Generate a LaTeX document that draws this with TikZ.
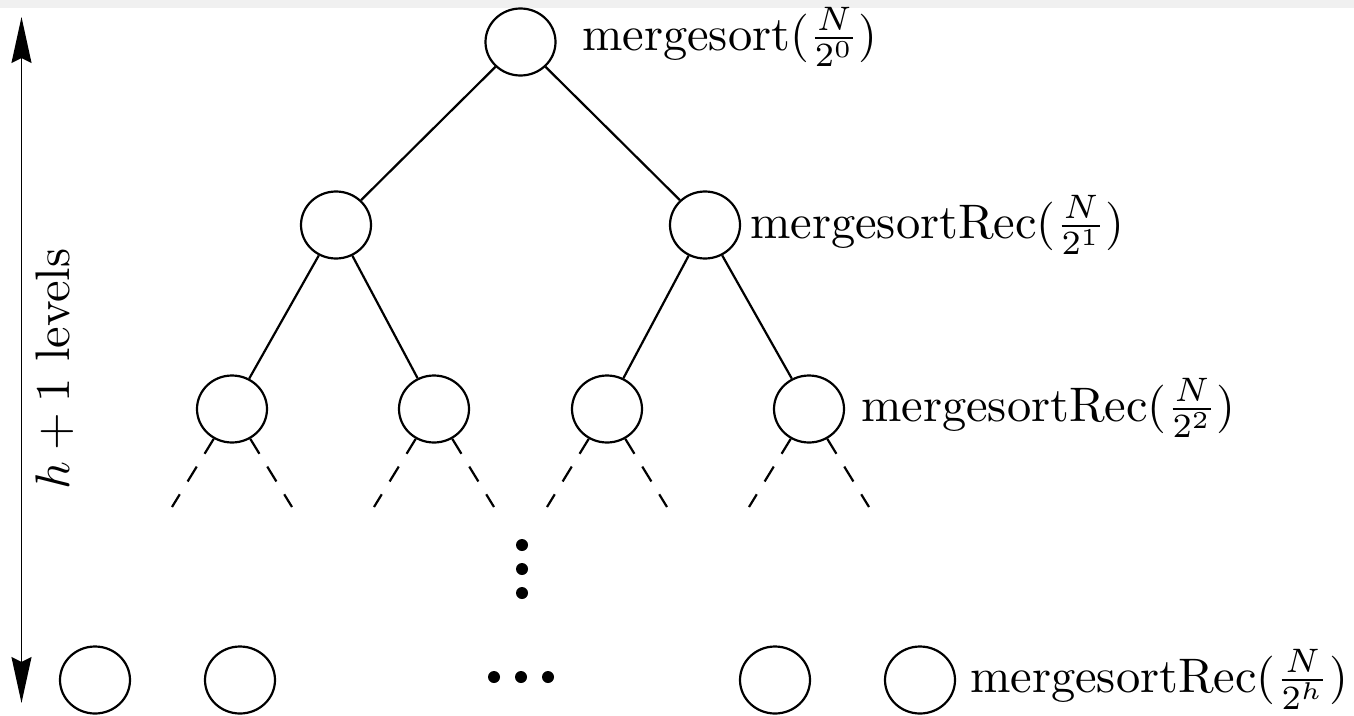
\documentclass[tikz,border=0pt]{standalone}
\usepackage{graphicx}
\usetikzlibrary{shapes.geometric,arrows.meta}
\newcommand{\bigtxt}[1]{\scalebox{4.85}{#1}}
\begin{document}
\begin{tikzpicture}[x=1pt,y=-1pt,
  nd/.style={draw,ellipse,minimum width=70pt,minimum height=67pt,inner sep=0pt,line width=2.2pt},
  edge/.style={line width=2.2pt},
  dsh/.style={line width=2.2pt,dash pattern=on 17.5pt off 15pt},
  lab/.style={anchor=base west,inner sep=0pt},
  dotnode/.style={circle,fill,inner sep=0pt,minimum size=12pt},
  lvarrow/.style={line width=1.6pt,{Stealth[length=46pt,width=20pt,inset=5pt]}-{Stealth[length=46pt,width=20pt,inset=5pt]}}]
\useasboundingbox (0,0) rectangle (1354,715);
\fill[black!6] (0,0) rectangle (1354,8);
% tree nodes
\node[nd] (r) at (520.5,42) {};
\node[nd] (a) at (336,225) {};
\node[nd] (b) at (705,225) {};
\node[nd] (c1) at (232,409) {};
\node[nd] (c2) at (434,409) {};
\node[nd] (c3) at (607,409) {};
\node[nd] (c4) at (809,409) {};
\node[nd] (e1) at (95,680) {};
\node[nd] (e2) at (240,680) {};
\node[nd] (e3) at (775,680) {};
\node[nd] (e4) at (920,680) {};
% solid edges
\draw[edge] (r) -- (a);
\draw[edge] (r) -- (b);
\draw[edge] (a) -- (c1);
\draw[edge] (a) -- (c2);
\draw[edge] (b) -- (c3);
\draw[edge] (b) -- (c4);
% dashed continuations
\coordinate (d1) at (172,507); \coordinate (d2) at (292,507);
\coordinate (d3) at (374,507); \coordinate (d4) at (494,507);
\coordinate (d5) at (547,507); \coordinate (d6) at (667,507);
\coordinate (d7) at (749,507); \coordinate (d8) at (869,507);
\draw[dsh] (c1) -- (d1); \draw[dsh] (c1) -- (d2);
\draw[dsh] (c2) -- (d3); \draw[dsh] (c2) -- (d4);
\draw[dsh] (c3) -- (d5); \draw[dsh] (c3) -- (d6);
\draw[dsh] (c4) -- (d7); \draw[dsh] (c4) -- (d8);
% dots
\node[dotnode] (v1) at (522,545) {};
\node[dotnode] (v2) at (522,569) {};
\node[dotnode] (v3) at (522,593) {};
\node[dotnode] (h1) at (494,677) {};
\node[dotnode] (h2) at (521,677) {};
\node[dotnode] (h3) at (548,677) {};
% labels
\node[lab] (lr) at (582,50) {\bigtxt{mergesort$(\frac{N}{2^0})$}};
\node[lab] (la) at (750,238) {\bigtxt{mergesortRec$(\frac{N}{2^1})$}};
\node[lab] (lc) at (861,421) {\bigtxt{mergesortRec$(\frac{N}{2^2})$}};
\node[lab] (le) at (970,692) {\bigtxt{mergesortRec$(\frac{N}{2^h})$}};
% levels arrow
\coordinate (at) at (21.5,17);
\coordinate (ab) at (21.5,703);
\draw[lvarrow] (at) -- (ab);
\node[rotate=90,anchor=base,inner sep=0pt] (lv) at (69,369) {\bigtxt{$h+1$ levels}};
\end{tikzpicture}
\end{document}
